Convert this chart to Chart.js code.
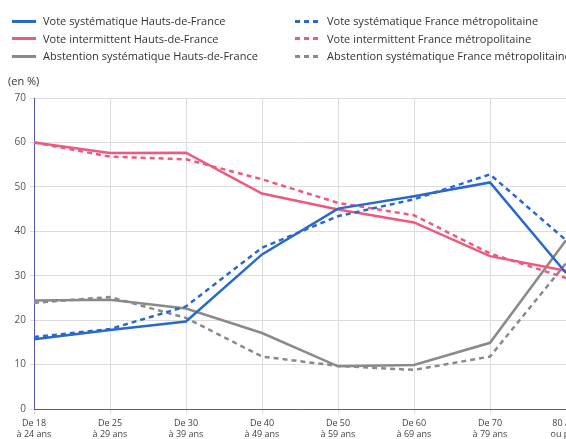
<!DOCTYPE html>
<html>
<head>
<meta charset="utf-8">
<script src="https://cdn.jsdelivr.net/npm/chart.js@4/dist/chart.umd.min.js"></script>
<style>
  body { margin: 0; width: 566px; height: 439px; overflow: hidden; background: #fff; font-family: "Open Sans", sans-serif; }
  #wrap { position: absolute; left: 0; top: 0; width: 600px; height: 439px; }
  .leg { position: absolute; font-size: 11px; color: #333; white-space: nowrap; line-height: 14px; }
  .leg span.s { display: inline-block; width: 24px; height: 3px; vertical-align: middle; margin-right: 7px; position: relative; top: -1px; }
  .unit { position: absolute; left: 8px; top: 73px; font-size: 11px; color: #333; }
</style>
</head>
<body>
<div id="wrap"><canvas id="grafico" width="600" height="439"></canvas></div>
<div id="legende"></div>
<div class="unit">(en %)</div>
<script>
const categories = [['De 18', 'à 24 ans'], ['De 25', 'à 29 ans'], ['De 30', 'à 39 ans'], ['De 40', 'à 49 ans'],
  ['De 50', 'à 59 ans'], ['De 60', 'à 69 ans'], ['De 70', 'à 79 ans'], ['80 ans', 'ou plus']];

const voteSystHdF = [15.7, 17.8, 19.7, 34.8, 45.1, 47.9, 51.0, 30.6];
const voteSystFr = [16.2, 18.0, 23.1, 36.3, 43.4, 47.2, 52.8, 38.0];
const voteInterHdF = [60.0, 57.6, 57.7, 48.5, 44.9, 42.0, 34.4, 31.1];
const voteInterFr = [60.0, 56.8, 56.2, 51.7, 46.4, 43.6, 35.0, 29.5];
const abstHdF = [24.4, 24.6, 22.6, 17.1, 9.6, 9.9, 14.9, 38.0];
const abstFr = [23.9, 25.2, 20.5, 11.8, 9.7, 8.8, 11.8, 32.8];

const bleu = '#2a68cc';
const rose = '#ee5a7c';
const gris = '#8a8a8a';
const axe = '#5656b0';

function serie(label, data, color, dashed) {
  return {
    label: label,
    data: data,
    borderColor: color,
    backgroundColor: color,
    borderWidth: 2.5,
    borderDash: dashed ? [5, 4] : [],
    pointRadius: 0,
    tension: 0,
    fill: false
  };
}

const datasets = [
  serie('Vote systématique Hauts-de-France', voteSystHdF, bleu, false),
  serie('Vote systématique France métropolitaine', voteSystFr, bleu, true),
  serie('Vote intermittent Hauts-de-France', voteInterHdF, rose, false),
  serie('Vote intermittent France métropolitaine', voteInterFr, rose, true),
  serie('Abstention systématique Hauts-de-France', abstHdF, gris, false),
  serie('Abstention systématique France métropolitaine', abstFr, gris, true)
];

// legende en deux colonnes
const leg = document.getElementById('legende');
datasets.forEach((d, i) => {
  const col = i % 2;
  const row = Math.floor(i / 2);
  const div = document.createElement('div');
  div.className = 'leg';
  div.style.left = (col ? 295 : 12) + 'px';
  div.style.top = (14 + row * 17.5) + 'px';
  const sw = document.createElement('span');
  sw.className = 's';
  if (d.borderDash.length) {
    sw.style.background = `repeating-linear-gradient(90deg, ${d.borderColor} 0 5px, transparent 5px 9px)`;
    sw.style.width = '23px';
    sw.style.marginRight = '9px';
  } else {
    sw.style.background = d.borderColor;
  }
  div.appendChild(sw);
  div.appendChild(document.createTextNode(d.label));
  leg.appendChild(div);
});

const ctx = document.getElementById('grafico');
new Chart(ctx, {
  type: 'line',
  data: {
    labels: categories,
    datasets: datasets
  },
  options: {
    responsive: false,
    animation: false,
    layout: { padding: { top: 98, right: 34, left: 0, bottom: 0 } },
    plugins: {
      legend: { display: false },
      tooltip: { enabled: false }
    },
    scales: {
      x: {
        offset: false,
        grid: { color: '#dcdcdc', tickLength: 5, lineWidth: 1 },
        border: { color: axe, width: 1 },
        ticks: {
          autoSkip: false, maxRotation: 0, padding: 4,
          color: '#444',
          font: { family: 'Open Sans', size: 9, lineHeight: 1.25 }
        },
        afterFit: (scale) => { scale.height = 30; }
      },
      y: {
        min: 0,
        max: 70,
        grid: { color: '#dcdcdc', tickLength: 4, lineWidth: 1 },
        border: { color: axe, width: 1 },
        ticks: {
          stepSize: 10, padding: 4,
          color: '#555',
          font: { family: 'Open Sans', size: 10 }
        },
        afterFit: (scale) => { scale.width = 34; }
      }
    }
  }
});
</script>
</body>
</html>
